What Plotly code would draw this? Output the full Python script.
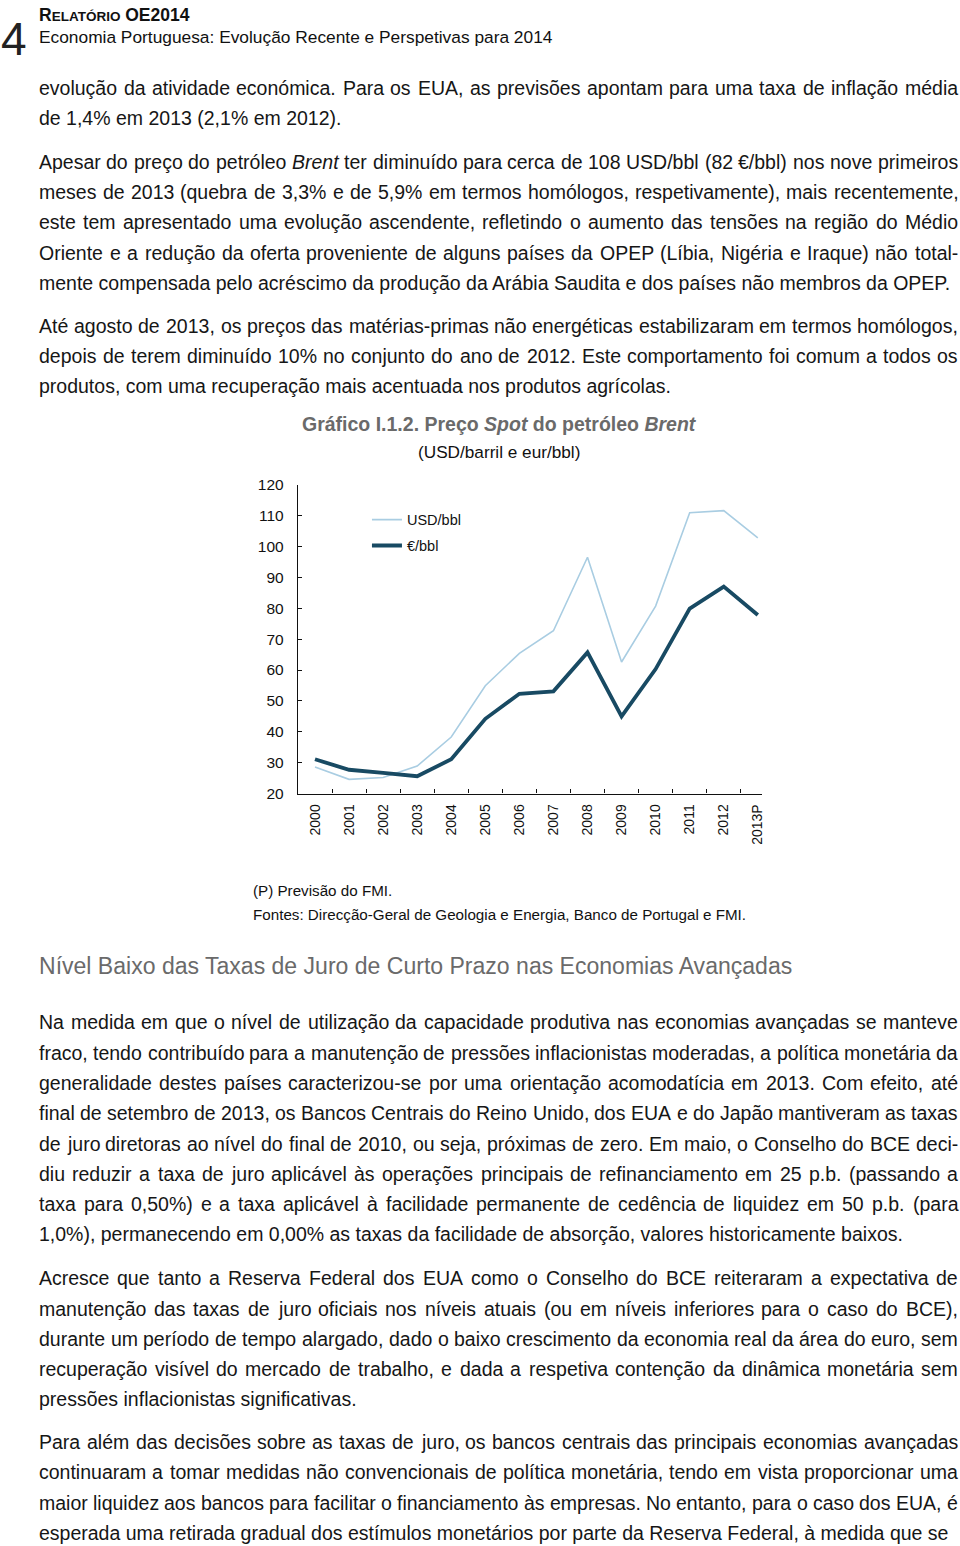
import re
import unicodedata
import plotly.graph_objects as go

# ---------------- chart data ----------------
years = ["2000", "2001", "2002", "2003", "2004", "2005", "2006", "2007",
         "2008", "2009", "2010", "2011", "2012", "2013P"]
usd_bbl = [28.6, 24.6, 25.2, 28.9, 38.3, 54.9, 65.4, 72.7, 96.5, 62.6, 80.7, 110.9, 111.6, 102.8]
eur_bbl = [31.1, 27.7, 26.7, 25.6, 31.1, 44.2, 52.3, 53.1, 65.7, 45.0, 60.3, 79.9, 87.0, 77.8]
y_ticks = [20, 30, 40, 50, 60, 70, 80, 90, 100, 110, 120]
series_names = ["USD/bbl", "€/bbl"]

# ---------------- page text ----------------
header_sub = "Economia Portuguesa: Evolução Recente e Perspetivas para 2014"
page_number = "4"

para1 = [
    "evolução da atividade económica. Para os EUA, as previsões apontam para uma taxa de inflação média",
    "de 1,4% em 2013 (2,1% em 2012).",
]
para2 = [
    "Apesar do preço do petróleo <i>Brent</i> ter diminuído para cerca de 108 USD/bbl (82 €/bbl) nos nove primeiros",
    "meses de 2013 (quebra de 3,3% e de 5,9% em termos homólogos, respetivamente), mais recentemente,",
    "este tem apresentado uma evolução ascendente, refletindo o aumento das tensões na região do Médio",
    "Oriente e a redução da oferta proveniente de alguns países da OPEP (Líbia, Nigéria e Iraque) não total-",
    "mente compensada pelo acréscimo da produção da Arábia Saudita e dos países não membros da OPEP.",
]
para3 = [
    "Até agosto de 2013, os preços das matérias-primas não energéticas estabilizaram em termos homólogos,",
    "depois de terem diminuído 10% no conjunto do ano de 2012. Este comportamento foi comum a todos os",
    "produtos, com uma recuperação mais acentuada nos produtos agrícolas.",
]
chart_title = "<b>Gráfico I.1.2. Preço <i>Spot</i> do petróleo <i>Brent</i></b>"
chart_subtitle = "(USD/barril e eur/bbl)"
note1 = "(P) Previsão do FMI."
note2 = "Fontes: Direcção-Geral de Geologia e Energia, Banco de Portugal e FMI."
heading = "Nível Baixo das Taxas de Juro de Curto Prazo nas Economias Avançadas"
para4 = [
    "Na medida em que o nível de utilização da capacidade produtiva nas economias avançadas se manteve",
    "fraco, tendo contribuído para a manutenção de pressões inflacionistas moderadas, a política monetária da",
    "generalidade destes países caracterizou-se por uma orientação acomodatícia em 2013. Com efeito, até",
    "final de setembro de 2013, os Bancos Centrais do Reino Unido, dos EUA e do Japão mantiveram as taxas",
    "de juro diretoras ao nível do final de 2010, ou seja, próximas de zero. Em maio, o Conselho do BCE deci-",
    "diu reduzir a taxa de juro aplicável às operações principais de refinanciamento em 25 p.b. (passando a",
    "taxa para 0,50%) e a taxa aplicável à facilidade permanente de cedência de liquidez em 50 p.b. (para",
    "1,0%), permanecendo em 0,00% as taxas da facilidade de absorção, valores historicamente baixos.",
]
para5 = [
    "Acresce que tanto a Reserva Federal dos EUA como o Conselho do BCE reiteraram a expectativa de",
    "manutenção das taxas de juro oficiais nos níveis atuais (ou em níveis inferiores para o caso do BCE),",
    "durante um período de tempo alargado, dado o baixo crescimento da economia real da área do euro, sem",
    "recuperação visível do mercado de trabalho, e dada a respetiva contenção da dinâmica monetária sem",
    "pressões inflacionistas significativas.",
]
para6 = [
    "Para além das decisões sobre as taxas de juro, os bancos centrais das principais economias avançadas",
    "continuaram a tomar medidas não convencionais de política monetária, tendo em vista proporcionar uma",
    "maior liquidez aos bancos para facilitar o financiamento às empresas. No entanto, para o caso dos EUA, é",
    "esperada uma retirada gradual dos estímulos monetários por parte da Reserva Federal, à medida que se",
]

# ---------------- layout helpers ----------------
W, H = 960, 1546
# measured mapping of figure pixels to the captured picture
SX, SY, OY = 0.997, 0.9896, 8.0
FONT = "Liberation Sans, Arial, Helvetica, sans-serif"
BODY_SIZE = 19.5
BODY_COLOR = "#161616"
GREY = "#6a6a6a"
LEFT, RIGHT = 39, 958
LINE_GAP = 30.3

AW = {' ': 278, '!': 278, '"': 355, '%': 889, '&': 667, "'": 191, '(': 333, ')': 333,
      ',': 278, '-': 333, '.': 278, '/': 278, ':': 278, ';': 278, '?': 556, '€': 556,
      'í': 278, 'ì': 278, 'î': 278, 'ï': 278}
for d in "0123456789":
    AW[d] = 556
for c, w in zip("ABCDEFGHIJKLMNOPQRSTUVWXYZ",
                [667, 667, 722, 722, 667, 611, 778, 722, 278, 500, 667, 556, 833, 722, 778,
                 667, 778, 722, 667, 611, 722, 667, 944, 667, 667, 611]):
    AW[c] = w
for c, w in zip("abcdefghijklmnopqrstuvwxyz",
                [556, 556, 500, 556, 556, 278, 556, 556, 222, 222, 500, 222, 833, 556, 556,
                 556, 556, 333, 500, 278, 556, 500, 722, 500, 500, 500]):
    AW[c] = w


def plain(s):
    return re.sub(r"<[^>]+>", "", s)


def em(s):
    total = 0
    for ch in plain(s):
        if ch in AW:
            total += AW[ch]
        else:
            total += AW.get(unicodedata.normalize("NFD", ch)[0], 556)
    return total / 1000.0


def px(x):
    return (x / SX) / W


def py(y):
    return 1 - ((y - OY) / SY) / H


def fit(text, width):
    return width / (em(text) * SX)


annotations = []


def add_text(text, x, y, size, color=BODY_COLOR, anchor="left", family=FONT):
    annotations.append(dict(
        text=text, x=px(x), y=py(y), xref="paper", yref="paper",
        xanchor=anchor, yanchor="middle", showarrow=False,
        borderpad=0, borderwidth=0,
        font=dict(size=size, color=color, family=family)))


def add_paragraph(lines, y0):
    for i, line in enumerate(lines):
        y = y0 + i * LINE_GAP
        if i == len(lines) - 1:
            add_text(line, LEFT, y, BODY_SIZE)
            continue
        words = line.split(" ")
        widths = [em(w) * BODY_SIZE * SX for w in words]
        gap = (RIGHT - LEFT - sum(widths)) / (len(words) - 1)
        x = LEFT
        for w, wd in zip(words, widths):
            add_text(w, x, y, BODY_SIZE)
            x += wd + gap


# header
add_text(page_number, 1, 38, 46, "#222222")
add_text('<b>R<span style="font-size:13.5px">ELATÓRIO</span> OE2014</b>', 39, 14, 17.5, "#111111")
add_text(header_sub, LEFT, 36, fit(header_sub, 512), "#111111")

add_paragraph(para1, 87)
add_paragraph(para2, 161)
add_paragraph(para3, 325)

add_text(chart_title, 500, 423, 19.5, GREY, anchor="center")
add_text(chart_subtitle, 499, 451, fit(chart_subtitle, 162), "#111111", anchor="center")
add_text(note1, 253, 890, fit(note1, 139), "#111111")
add_text(note2, 253, 914, fit(note2, 492), "#111111")
add_text(heading, LEFT, 966, fit(heading, 756), GREY)

add_paragraph(para4, 1022)
add_paragraph(para5, 1278)
add_paragraph(para6, 1442)

# ---------------- figure ----------------
fig = go.Figure()
fig.add_trace(go.Scatter(x=years, y=usd_bbl, mode="lines", name=series_names[0],
                         line=dict(color="#a9cde2", width=1.6), legendgroup="usd"))
fig.add_trace(go.Scatter(x=years, y=eur_bbl, mode="lines", name=series_names[1],
                         line=dict(color="#184a63", width=3.8), legendgroup="eur"))

fig.update_layout(
    width=W, height=H, autosize=False,
    margin=dict(l=0, r=0, t=0, b=0),
    paper_bgcolor="white", plot_bgcolor="white",
    showlegend=True,
    xaxis=dict(domain=[px(298), px(762)], type="category", range=[-0.5, 13.12],
               showline=True, linecolor="#111111", linewidth=1.4,
               ticks="inside", ticklen=4, tickcolor="#111111", tickson="boundaries",
               tickangle=-90, tickfont=dict(family=FONT, size=14, color="#111111"),
               showgrid=False, zeroline=False, ticklabelstandoff=4, fixedrange=True),
    yaxis=dict(domain=[py(793), py(484)], range=[20, 120], tickvals=y_ticks,
               showline=True, linecolor="#111111", linewidth=1.4,
               ticks="inside", ticklen=4, tickcolor="#111111",
               tickfont=dict(family=FONT, size=15.5, color="#111111"),
               showgrid=False, zeroline=False, ticklabelstandoff=10, fixedrange=True),
    legend=dict(x=px(367), y=py(503), xanchor="left", yanchor="top",
                font=dict(family=FONT, size=14.5, color="#111111"),
                bgcolor="rgba(0,0,0,0)", traceorder="grouped", tracegroupgap=4),
    annotations=annotations,
)

page_css = (
    "var de=document.documentElement, b=document.body;"
    "de.style.margin='0';de.style.padding='0';de.style.overflow='hidden';"
    "b.style.margin='0';b.style.padding='0';b.style.overflow='hidden';"
    "var gd=document.querySelector('.plotly-graph-div');"
    "gd.style.position='absolute';gd.style.left='0px';gd.style.top='0px';"
)
fig.write_html("out.html", config={"displayModeBar": False}, post_script=page_css)
